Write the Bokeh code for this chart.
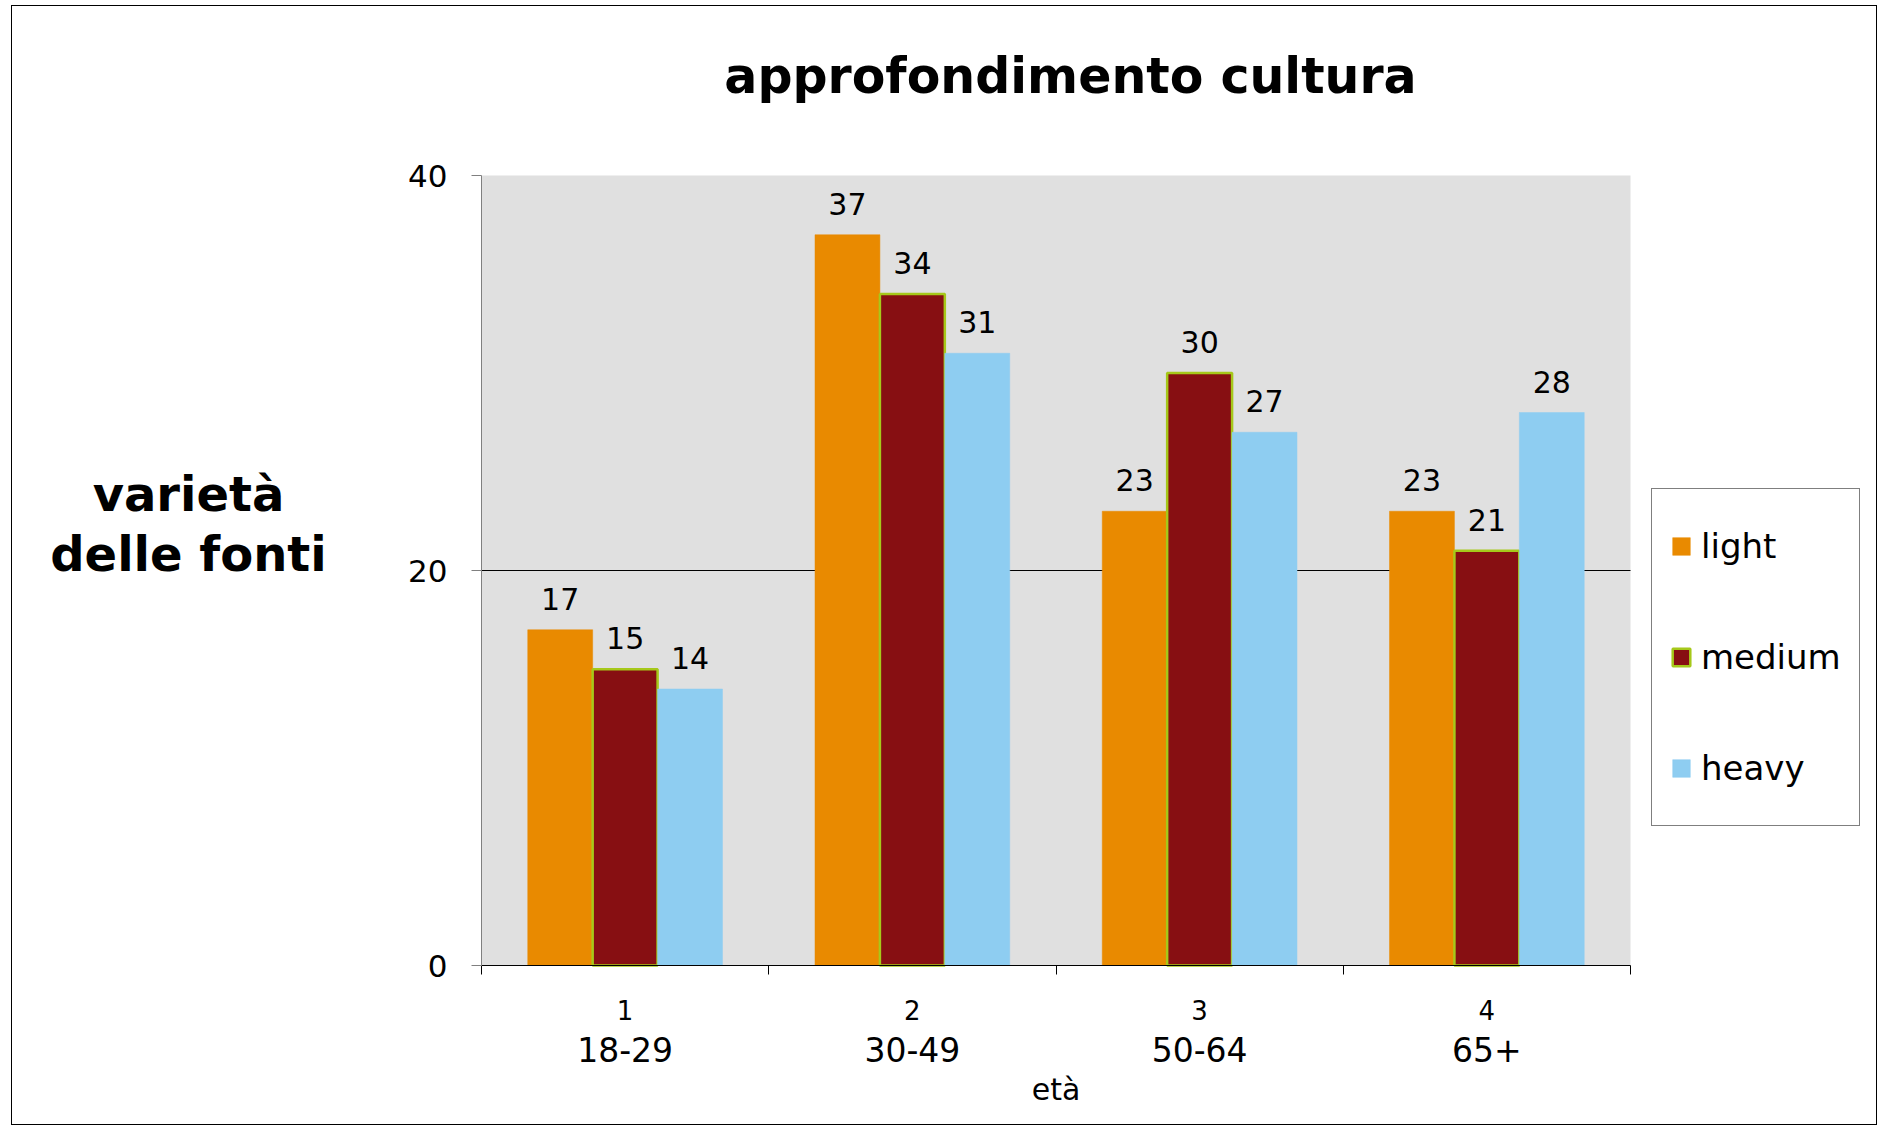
from bokeh.plotting import figure
from bokeh.models import (Range1d, LinearAxis, FixedTicker, Legend, LegendItem, Label,
                          ColumnDataSource, BoxAnnotation)
from bokeh.transform import dodge
from bokeh.core.properties import value
from bokeh.embed import file_html
from bokeh.resources import INLINE

# ---- data ----
title_text = "approfondimento cultura"
age_groups = ["18-29", "30-49", "50-64", "65+"]
group_numbers = ["1", "2", "3", "4"]
series_names = ["light", "medium", "heavy"]
light = [17, 37, 23, 23]
medium = [15, 34, 30, 21]
heavy = [14, 31, 27, 28]
y_ticks = [0, 20, 40]
x_label = "età"
y_label_lines = ["varietà", "delle fonti"]

FONT = "DejaVu Sans"
colors = {"light": "#E98A00", "medium": "#870F12", "heavy": "#8ECDF1"}
outline = {"light": None, "medium": "#A6C81A", "heavy": None}

n = len(age_groups)
centers = [i + 0.5 for i in range(n)]          # category slot centres
edges = list(range(n + 1))                      # category slot boundaries
grid_ticks = [t for t in y_ticks if y_ticks[0] < t < y_ticks[-1]]
y0, y1 = y_ticks[0], y_ticks[-1]

# ---- layout (pixels, figure coordinates) ----
W, H = 1866, 1120
PLOT_L, PLOT_R = 469, 1618          # grey plot area left/right
PLOT_T, PLOT_B = 169, 959           # grey plot area top/bottom
ux = (PLOT_R - PLOT_L) / n
uy = (PLOT_B - PLOT_T) / (y1 - y0)
x_start, x_end = -PLOT_L / ux, n + (W - PLOT_R) / ux
y_start, y_end = y0 - (H - PLOT_B) / uy, y1 + PLOT_T / uy

data = dict(xc=centers)
for name, vals in zip(series_names, [light, medium, heavy]):
    data[name] = vals
    data[name + "_txt"] = [str(v) for v in vals]
src = ColumnDataSource(data)

p = figure(width=W, height=H, x_range=Range1d(x_start, x_end), y_range=Range1d(y_start, y_end),
           title=None, output_backend="svg", toolbar_location=None, x_axis_location=None,
           min_border_left=0, min_border_right=0, min_border_top=0, min_border_bottom=0,
           background_fill_color="white", outline_line_color=None, border_fill_color="white")
p.styles = {"border": "1px solid black", "margin-left": "11px", "margin-top": "5px"}
p.xgrid.grid_line_color = None
p.ygrid.grid_line_color = None

# grey plot area
p.add_layout(BoxAnnotation(left=0, right=n, bottom=y0, top=y1,
                           fill_color="#E0E0E0", fill_alpha=1.0, line_color=None, level="underlay"))
# horizontal gridline(s)
p.segment(x0=[0] * len(grid_ticks), x1=[n] * len(grid_ticks), y0=grid_ticks, y1=grid_ticks,
          line_color="black", line_width=1)

# y axis at x = 0
p.yaxis.fixed_location = 0
p.yaxis.bounds = (y0, y1)
p.yaxis.ticker = FixedTicker(ticks=y_ticks)
p.yaxis.minor_tick_line_color = None
p.yaxis.major_tick_out = 10
p.yaxis.major_tick_in = 0
p.yaxis.axis_line_color = "#808080"
p.yaxis.major_tick_line_color = "#808080"
p.yaxis.major_label_text_font = FONT
p.yaxis.major_label_text_font_size = "31px"
p.yaxis.major_label_text_color = "black"
p.yaxis.major_label_standoff = 24

# x axes at y = 0: boundary ticks, number row, age-group row
edge_axis = LinearAxis(ticker=FixedTicker(ticks=edges), bounds=(0, n), fixed_location=y0,
                       major_label_overrides={e: "" for e in edges},
                       major_tick_out=9, major_tick_in=0, minor_tick_out=0, minor_tick_in=0,
                       major_label_text_font_size="1px", major_label_standoff=0,
                       axis_line_color="black", major_tick_line_color="black")
p.add_layout(edge_axis, "below")

num_axis = LinearAxis(ticker=FixedTicker(ticks=centers), bounds=(0, n), fixed_location=y0,
                      major_label_overrides={c: g for c, g in zip(centers, group_numbers)},
                      major_tick_out=0, major_tick_in=0, minor_tick_out=0, minor_tick_in=0,
                      axis_line_color=None, major_tick_line_color=None,
                      major_label_text_font=FONT, major_label_text_font_size="26px",
                      major_label_text_color="black", major_label_standoff=34)
p.add_layout(num_axis, "below")

age_axis = LinearAxis(ticker=FixedTicker(ticks=centers), bounds=(0, n), fixed_location=y0,
                      major_label_overrides={c: g for c, g in zip(centers, age_groups)},
                      major_tick_out=0, major_tick_in=0, minor_tick_out=0, minor_tick_in=0,
                      axis_line_color=None, major_tick_line_color=None,
                      major_label_text_font=FONT, major_label_text_font_size="33px",
                      major_label_text_color="black", major_label_standoff=71,
                      axis_label=x_label, axis_label_text_font=FONT,
                      axis_label_text_font_size="30px", axis_label_text_font_style="normal",
                      axis_label_text_color="black", axis_label_standoff=7)
p.add_layout(age_axis, "below")

# bars
bw = 0.226
offsets = [-bw, 0, bw]
items = []
for name, off in zip(series_names, offsets):
    r = p.vbar(x=dodge("xc", off), top=name, width=bw, bottom=0, source=src,
               fill_color=colors[name], line_color=outline[name] if outline[name] else colors[name],
               line_width=2.5 if outline[name] else 0.5)
    items.append(LegendItem(label=name, renderers=[r]))
    p.text(x=dodge("xc", off), y=name, text=name + "_txt", source=src,
           text_align="center", text_baseline="bottom", y_offset=-20,
           text_font=value(FONT), text_font_size="30px", text_color="black")

legend = Legend(items=items, location=(1639, 300), border_line_color="black", border_line_width=1,
                background_fill_color="white", background_fill_alpha=1.0,
                label_text_font=FONT, label_text_font_size="34px", label_text_color="black",
                glyph_width=22, glyph_height=22, label_height=78, spacing=33,
                padding=18, label_standoff=9, margin=0)
p.add_layout(legend)

# chart title
p.add_layout(Label(x=1058, y=H - 70, x_units="screen", y_units="screen", text=title_text,
                   text_align="center", text_baseline="middle", text_font=FONT,
                   text_font_size="49px", text_font_style="bold", text_color="black"))

# y-axis title (horizontal, two centred lines)
for txt, yy in zip(y_label_lines, [H - 487, H - 547]):
    p.add_layout(Label(x=176, y=yy, x_units="screen", y_units="screen", text=txt,
                       text_align="center", text_baseline="middle", text_font=FONT,
                       text_font_size="48px", text_font_style="bold", text_color="black"))

open("out.html", "w").write(file_html(p, INLINE))
